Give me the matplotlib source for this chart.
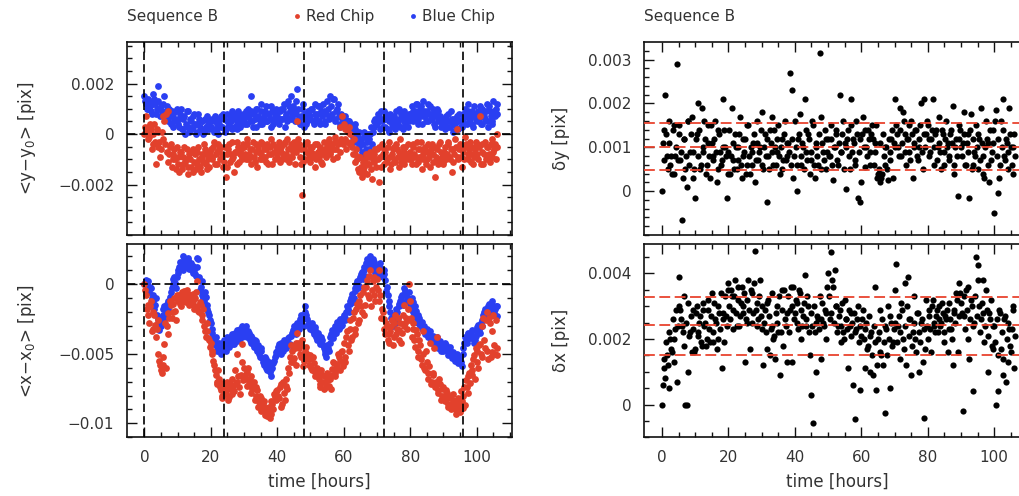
import numpy as np
import matplotlib
matplotlib.use('Agg')
import matplotlib.pyplot as plt
from matplotlib.lines import Line2D

plt.rcParams['font.family'] = ['DejaVu Sans']
plt.rcParams['mathtext.fontset'] = 'dejavusans'

RED = '#e2412c'
BLUE = '#2a3ff2'
TXT = '#333333'

# frame times of sequence B (hours): frames every half hour, plus the
# interleaved frames a quarter hour later
time_h = np.arange(0, 106.5, 0.5)
time_h2 = time_h + 0.25
day_marks = [0, 24, 48, 72, 96]

# <y-y0>, units of 1e-3 pix
blue_y = [1.5, 1.2, 1.0, 1.3, 0.9, 1.2, 1.4, 0.8, 1.9, 1.0, 1.1, 0.7, 1.5, 0.9, 0.6, 1.0, 0.4, 0.8, 0.5, 0.9,
          0.6, 0.3, 1.0, 0.2, 0.7, 0.4, 0.9, 0.1, 0.5, 0.3, 0.8, 0.0, 0.4, 0.6, 0.2, 0.5, 0.1, 0.3, 0.7, 0.2,
          0.3, 0.6, 0.1, 0.5, 0.2, 0.4, 0.7, 0.3, 0.6, 0.2, 0.8, 0.4, 0.5, 0.9, 0.3, 0.6, 0.2, 0.7, 0.5, 0.4,
          0.6, 0.9, 0.4, 0.7, 1.5, 0.5, 0.8, 0.3, 1.0, 0.6, 0.9, 0.4, 0.7, 1.1, 0.5, 0.8, 0.3, 0.9, 0.6, 1.0,
          0.7, 0.4, 1.0, 0.6, 1.2, 0.8, 0.5, 1.1, 1.5, 0.7, 0.9, 1.3, 1.8, 0.6, 0.4, 1.0, 0.3, 0.8, 0.5, 0.9,
          0.6, 1.0, 0.4, 1.2, 0.8, 0.5, 1.1, 0.7, 0.9, 0.4, 1.3, 0.6, 1.5, 0.8, 1.4, 0.5, 1.0, 0.7, 0.3, 0.6,
          0.4, 0.7, 0.2, 0.5, 0.1, 0.3, 0.0, 0.4, -0.2, 0.1, -0.4, -0.7, -0.1, -0.9, -0.3, -0.6, 0.0, -0.4, 0.3, 0.6,
          0.4, 0.7, 0.2, 0.5, 0.9, 0.3, 0.6, 0.1, 0.8, 0.4, 0.7, 0.2, 0.5, 1.0, 0.3, 0.6, 0.9, 0.4, 0.7, 0.5,
          0.8, 1.1, 0.5, 0.9, 1.2, 0.6, 1.0, 0.4, 1.3, 0.7, 0.9, 0.5, 1.1, 0.6, 0.8, 0.3, 1.0, 0.5, 0.7, 0.4,
          0.6, 0.2, 0.5, 0.8, 0.3, 0.6, 0.1, 0.4, 0.7, 0.2, 0.5, 0.3, 0.8, 1.0, 0.4, 1.2, 0.6, 0.9, 0.3, 0.7,
          0.5, 0.9, 1.1, 0.4, 0.8, 0.6, 1.2, 0.3, 0.9, 0.5, 1.3, 0.7, 1.2]
blue_y2 = [1.3, 1.0, 1.4, 1.1, 0.8, 1.6, 1.2, 1.0, 1.3, 0.7, 0.9, 1.2, 0.8, 1.1, 0.5, 0.7, 0.9, 0.3, 0.6, 1.0,
           0.4, 0.8, 0.2, 0.6, 0.0, 0.9, 0.3, 0.6, 0.2, 0.7, 0.4, 0.1, 0.8, 0.3, 0.5, 0.0, 0.6, 0.2, 0.4, 0.5,
           0.5, 0.2, 0.7, 0.4, 0.0, 0.6, 0.3, 0.8, 0.1, 0.5, 0.3, 0.7, 0.2, 0.6, 0.8, 0.4, 0.9, 0.3, 0.6, 0.8,
           0.4, 0.7, 1.0, 0.5, 0.9, 0.3, 0.6, 1.0, 0.7, 0.4, 1.2, 0.6, 0.9, 0.5, 0.8, 0.6, 1.1, 0.4, 0.7, 0.8,
           0.5, 0.9, 0.6, 1.0, 0.3, 0.7, 1.3, 0.9, 0.6, 1.1, 0.5, 0.8, 1.0, 0.4, 0.7, 1.2, 0.6, 0.4, 0.9, 0.7,
           1.0, 0.5, 0.8, 0.6, 1.1, 0.4, 0.9, 1.2, 0.5, 0.8, 1.0, 0.7, 1.1, 1.4, 0.6, 0.9, 1.2, 0.4, 0.8, 0.5,
           0.6, 0.3, 0.5, 0.1, 0.4, -0.1, 0.2, -0.3, 0.0, -0.5, -0.2, -0.4, 0.1, -0.6, 0.0, -0.2, 0.3, 0.1, 0.5, 0.4,
           0.8, 0.5, 0.9, 0.3, 0.6, 0.8, 0.2, 0.5, 0.7, 0.3, 0.5, 0.9, 0.4, 0.6, 0.8, 0.2, 0.5, 0.7, 0.3, 0.8,
           0.6, 0.9, 0.7, 1.2, 0.4, 0.8, 1.1, 0.7, 0.9, 0.5, 1.2, 0.8, 0.6, 1.0, 0.4, 0.7, 0.9, 0.6, 0.3, 0.6,
           0.4, 0.7, 0.3, 0.5, 0.9, 0.4, 0.6, 0.2, 0.5, 0.8, 0.3, 0.6, 0.4, 0.7, 0.9, 0.5, 0.8, 0.4, 1.1, 0.6,
           0.8, 0.6, 0.4, 1.0, 0.7, 0.9, 0.5, 1.1, 0.7, 0.4, 0.9, 1.0, 0.8]
red_y = [0.0, 0.7, 0.3, -0.1, 0.2, -0.4, 0.4, -1.2, 0.1, -0.3, -0.6, -0.2, 0.5, 0.8, 0.9, -0.8, -0.4, -1.0, -0.6, -1.4,
         -0.9, -1.5, -0.7, -1.2, -0.5, -1.0, -1.6, -0.8, -1.3, -0.6, -1.1, -1.4, -0.7, -1.0, -1.5, -0.9, -0.4, -1.2, -0.8, -1.3,
         -0.6, -1.0, -0.3, -0.8, -1.2, -0.6, -0.5, -0.9, -1.1, -1.7, -1.3, -0.4, -0.8, -1.0, -1.5, -0.7, -0.3, -1.1, -0.6, -0.9,
         -0.5, -1.0, -0.2, -0.8, -1.2, -0.6, -0.9, -0.4, -1.3, -0.7, -0.3, -1.0, -0.6, -1.1, -0.4, -0.8, -0.2, -1.2, -0.7, -0.5,
         -0.9, -0.3, -0.7, -1.0, -0.4, -0.8, -0.2, -1.1, -0.5, -0.9, -0.3, -0.7, 0.5, -0.4, -1.2, -2.4, -0.6, -1.0, -0.3, -0.8,
         -1.1, -0.5, -0.8, -1.3, -0.4, -0.9, -0.6, -1.2, -0.3, -0.7, -0.5, -0.2, -0.8, -0.4, -0.6, -0.1, -0.9, -0.3, 0.3, 0.7,
         0.4, 0.2, -0.3, 0.3, 0.0, -0.5, -0.2, -0.8, -1.0, -1.5, -0.9, -1.7, -1.3, -1.0, -1.6, -1.2, -0.7, -1.8, -1.1, -0.6,
         -0.6, -1.9, -0.9, -0.4, -1.2, -0.7, -1.0, -0.3, -1.4, -0.8, -0.5, -1.1, -0.6, -1.3, -0.2, -0.9, -1.2, -0.5, -0.8, -1.0,
         -0.7, -1.2, -0.4, -0.9, -0.3, -1.1, -0.6, -1.4, -0.8, -0.5, -1.0, -0.7, -1.3, -0.4, -0.8, -1.7, -0.6, -1.0, -0.3, -0.9,
         -1.2, -0.5, -0.8, -0.3, -1.0, -1.5, -0.6, -0.2, 0.2, -0.9, -0.4, -1.3, -0.7, -0.1, -0.5, -1.0, -0.3, -0.8, -1.2, -0.6,
         -0.4, -1.0, 0.7, -0.7, -1.2, -0.3, -0.9, -0.5, -1.1, -0.2, -0.7, -0.4, 0.0]
red_y2 = [0.3, 0.1, -0.2, 0.4, -0.6, 0.0, -0.3, 0.2, -0.5, -0.9, 0.1, 0.7, -0.4, -0.7, -1.1, -0.5, -1.3, -0.8, -1.0, -0.5,
          -1.2, -0.7, -1.4, -0.9, -1.1, -0.6, -1.3, -1.0, -0.7, -1.5, -0.8, -1.2, -0.5, -1.3, -0.8, -1.1, -0.6, -1.4, -1.0, -0.7,
          -0.9, -0.5, -1.2, -0.7, -0.4, -1.0, -0.8, -1.3, -0.5, -0.8, -0.6, -1.1, -0.3, -0.9, -0.7, -1.2, -0.5, -0.8, -1.0, -0.4,
          -0.8, -0.4, -1.0, -0.6, -0.9, -0.3, -1.1, -0.7, -0.5, -1.0, -0.8, -0.4, -0.9, -0.6, -1.2, -0.5, -0.8, -0.4, -1.0, -0.7,
          -0.6, -1.1, -0.5, -0.8, -0.3, -1.0, -0.6, -0.9, -0.4, -0.7, -1.2, -0.5, -0.2, -0.9, -0.6, -1.1, -0.4, -0.7, -1.0, -0.5,
          -0.7, -0.9, -0.4, -1.0, -0.7, -0.5, -1.1, -0.8, -0.6, -0.9, -0.3, -0.7, -0.5, -1.0, -0.3, -0.6, -0.4, -0.7, -0.2, -0.4,
          -0.2, -0.6, 0.1, -0.4, -0.3, -0.8, -1.1, -0.6, -1.4, -0.9, -1.3, -1.1, -1.5, -0.8, -1.2, -0.9, -1.4, -1.0, -0.8, -1.3,
          -1.0, -0.5, -1.3, -0.8, -0.6, -1.1, -0.5, -0.9, -1.2, -0.6, -1.0, -0.4, -0.9, -0.7, -1.1, -0.5, -0.7, -1.0, -0.4, -0.8,
          -1.0, -0.5, -0.8, -1.2, -0.6, -0.9, -0.3, -1.0, -0.6, -1.2, -0.4, -0.9, -0.6, -1.1, -0.5, -0.9, -1.2, -0.4, -0.7, -1.1,
          -0.7, -1.0, -0.4, -0.9, -0.6, -1.1, -0.8, -0.5, -1.0, -0.6, -0.9, -0.5, -1.0, -0.4, -0.8, -0.6, -1.1, -0.5, -0.9, -0.3,
          -0.8, -0.5, -1.2, -0.4, -0.8, -1.0, -0.5, -0.8, -0.4, -0.9, -0.6, -1.0, -0.5]

# <x-x0>, units of 1e-3 pix
blue_x = [0.0, 0.3, 0.2, -0.6, -0.3, -1.2, -1.8, -1.0, -2.5, -3.3, -3.0, -2.2, -1.6, -2.0, -1.2, -1.5, -0.6, 0.0, 0.5, -0.3,
          0.8, 1.2, 1.5, 1.0, 1.9, 1.4, 1.7, 1.1, 1.5, 0.8, 1.0, 0.6, 1.9, 0.5, -0.2, -0.8, -1.2, -0.9, -1.8, -2.2,
          -2.8, -3.5, -4.3, -3.8, -4.8, -4.2, -5.0, -4.5, -4.0, -4.8, -3.8, -4.5, -4.0, -3.6, -4.3, -3.7, -3.3, -4.0, -3.5, -3.0,
          -3.4, -3.0, -3.8, -3.5, -4.2, -3.9, -4.5, -4.1, -4.8, -5.0, -4.6, -5.3, -5.8, -5.4, -6.2, -5.6, -6.6, -6.0, -5.5, -5.1,
          -4.8, -4.3, -5.0, -4.5, -4.0, -4.6, -4.2, -3.8, -4.4, -3.5, -3.0, -3.6, -2.8, -3.2, -2.2, -2.6, -3.0, -1.6, -2.5, -2.8,
          -3.2, -2.8, -3.6, -3.3, -4.0, -3.7, -4.3, -4.0, -4.6, -5.0, -4.4, -4.8, -3.8, -3.3, -3.6, -3.0, -2.7, -3.2, -2.5, -2.9,
          -2.2, -2.6, -1.6, -2.0, -1.2, -0.7, -1.0, -0.3, 0.2, -0.1, 0.5, 0.9, 1.2, 0.6, 1.8, 1.4, 2.0, 1.1, 1.6, 0.8,
          1.2, 0.6, 1.5, 0.9, 1.0, 0.3, -0.2, -1.2, -2.0, -2.6, -2.2, -2.8, -2.0, -1.6, -1.2, -0.8, -1.3, -0.5, -1.0, -0.6,
          -1.4, -1.0, -2.0, -1.6, -2.5, -2.2, -3.0, -2.7, -3.3, -3.6, -3.2, -3.8, -3.4, -4.2, -3.9, -4.4, -3.8, -4.6, -4.1, -4.5,
          -4.8, -4.2, -4.6, -5.1, -4.5, -5.3, -4.9, -5.5, -5.0, -5.7, -5.2, -5.9, -4.6, -3.8, -4.2, -3.5, -3.9, -3.3, -3.7, -4.0,
          -3.4, -2.9, -3.5, -2.6, -2.2, -1.8, -2.4, -1.6, -2.0, -1.2, -2.2, -1.8, -1.6]
blue_x2 = [0.1, 0.0, -0.4, -0.2, -1.0, -0.8, -1.5, -2.2, -2.8, -2.6, -2.4, -1.8, -2.4, -1.4, -1.8, -0.9, -0.3, 0.4, 0.1, 0.5,
           1.0, 1.6, 1.3, 2.0, 1.6, 1.2, 1.9, 1.4, 1.0, 1.3, 0.7, 1.2, 1.8, -0.4, 0.2, -1.0, -0.6, -1.5, -2.0, -2.6,
           -3.2, -3.9, -4.1, -4.5, -4.4, -4.7, -4.6, -4.2, -4.4, -4.1, -4.2, -3.8, -4.3, -3.9, -3.5, -4.1, -3.6, -3.2, -3.8, -3.3,
           -3.2, -3.6, -3.4, -4.0, -3.7, -4.3, -4.0, -4.6, -4.4, -5.2, -4.8, -5.6, -5.2, -6.0, -5.8, -6.3, -6.1, -5.7, -5.2, -4.9,
           -4.5, -4.7, -4.2, -4.8, -4.3, -4.1, -3.9, -4.3, -3.7, -3.3, -3.4, -2.9, -3.1, -2.5, -2.9, -2.3, -2.0, -2.2, -2.9, -3.1,
           -3.0, -3.4, -3.1, -3.8, -3.5, -4.1, -3.8, -4.4, -4.8, -5.2, -4.6, -4.2, -3.6, -3.9, -3.2, -3.5, -2.9, -2.6, -3.0, -2.4,
           -2.4, -2.0, -1.8, -1.4, -1.0, -1.3, -0.5, 0.0, -0.3, 0.3, 0.7, 0.4, 1.0, 1.5, 1.2, 1.7, 1.5, 1.8, 1.3, 1.0,
           0.9, 1.3, 1.1, 0.5, 0.7, -0.5, -0.8, -1.6, -2.4, -3.0, -2.5, -1.8, -2.4, -1.4, -0.9, -1.5, -0.3, -0.8, -1.2, -1.1,
           -1.8, -1.3, -2.3, -1.9, -2.8, -2.4, -2.9, -3.2, -3.0, -3.4, -3.5, -3.6, -4.0, -3.7, -4.1, -4.0, -4.3, -4.2, -4.8, -4.4,
           -4.6, -4.4, -4.9, -4.7, -5.0, -5.1, -5.3, -5.2, -5.4, -5.5, -5.6, -5.0, -4.2, -4.0, -3.6, -3.8, -3.5, -3.9, -4.2, -3.7,
           -3.1, -3.3, -2.8, -3.0, -2.0, -2.3, -1.9, -1.4, -1.8, -1.5, -2.0, -1.6, -2.3]
red_x = [0.0, -0.8, -1.5, -2.8, -1.2, -3.2, -2.2, -3.8, -2.6, -5.5, -6.2, -5.8, -4.3, -6.0, -3.6, -2.4, -1.5, -2.0, -1.0, -2.6,
         -1.2, -0.8, -1.6, -1.0, -0.5, -1.3, -0.7, -1.5, -0.9, -1.2, -1.8, -0.6, 0.2, -2.0, -1.5, -2.6, -3.0, -3.8, -3.4, -4.0,
         -4.2, -5.0, -5.8, -6.5, -7.2, -6.8, -7.6, -8.0, -7.3, -7.8, -7.0, -8.1, -7.5, -6.8, -7.7, -7.1, -5.0, -7.4, -6.5, -4.3,
         -6.0, -6.8, -6.3, -7.2, -6.6, -7.5, -7.0, -8.0, -7.6, -8.5, -8.2, -8.9, -8.4, -9.2, -9.5, -8.8, -9.3, -8.6, -7.9, -8.3,
         -7.6, -8.2, -7.2, -8.6, -7.8, -6.8, -7.5, -6.4, -5.6, -4.8, -5.3, -4.2, -3.5, -4.6, -5.2, -4.0, -5.5, -4.8, -5.0, -5.8,
         -5.4, -6.2, -5.7, -6.6, -6.0, -6.8, -7.2, -6.5, -7.5, -7.0, -6.4, -7.3, -6.8, -6.1, -5.7, -6.4, -5.8, -5.2, -5.5, -4.8,
         -4.2, -5.6, -3.4, -4.8, -2.6, -3.8, -2.0, -3.2, -1.4, -2.6, -0.8, -2.0, -0.2, -1.5, 0.3, -1.0, 1.0, -0.4, 0.5, -1.2,
         0.4, 1.0, -0.8, -1.8, -2.5, -3.6, -3.0, -4.2, -3.4, -2.6, -3.8, -2.2, -3.2, -4.0, -2.8, -3.5, -1.5, -2.8, -3.2, 0.0,
         -1.2, -3.8, -2.8, -4.5, -3.6, -5.2, -4.4, -5.8, -3.4, -6.2, -5.6, -6.8, -4.2, -7.0, -6.5, -7.4, -3.8, -7.6, -7.2, -8.0,
         -7.5, -8.4, -7.8, -8.8, -8.2, -8.6, -7.9, -9.0, -8.5, -8.9, -9.2, -8.4, -8.0, -8.7, -7.4, -6.6, -7.1, -6.2, -5.4, -6.8,
         -4.8, -6.0, -4.3, -5.2, -2.4, -4.6, -2.0, -5.4, -2.8, -4.9, -2.2, -5.0, -4.6]
red_x2 = [-0.4, -1.8, -2.2, -1.6, -3.4, -2.0, -2.9, -3.2, -5.0, -5.8, -6.4, -5.2, -2.8, -3.0, -2.1, -1.2, -2.4, -1.4, -1.9, -0.8,
          -1.0, -1.4, -0.6, -1.2, -0.9, -0.4, -1.1, -0.8, -1.4, -0.7, -1.0, -1.6, -1.9, -1.3, -2.2, -1.8, -3.4, -2.8, -3.9, -4.5,
          -4.8, -5.5, -6.2, -7.0, -6.2, -7.4, -8.2, -7.1, -7.9, -7.5, -8.3, -7.2, -7.9, -7.3, -6.2, -7.0, -6.6, -7.9, -5.6, -6.9,
          -6.5, -7.3, -6.0, -6.9, -7.8, -7.2, -8.3, -7.4, -8.8, -8.0, -9.1, -8.6, -9.4, -8.9, -9.0, -9.6, -8.4, -9.0, -8.1, -7.7,
          -8.0, -7.4, -8.8, -7.0, -8.3, -7.3, -6.0, -5.2, -4.4, -5.6, -4.6, -5.8, -4.2, -5.0, -4.4, -5.9, -5.2, -4.5, -5.4, -5.1,
          -6.0, -5.2, -6.3, -6.1, -6.5, -7.4, -6.2, -7.0, -6.6, -7.4, -6.9, -6.5, -7.5, -5.6, -6.6, -6.0, -5.0, -6.2, -4.9, -5.9,
          -5.2, -3.8, -4.4, -3.2, -4.0, -2.4, -3.6, -1.8, -2.8, -1.2, -1.6, -0.6, -2.2, -0.2, -0.8, 0.6, -1.6, 0.2, -0.8, -0.2,
          -0.4, -1.2, -2.4, -2.0, -3.2, -2.8, -4.0, -3.6, -3.0, -4.4, -2.8, -3.6, -2.4, -3.3, -4.2, -2.2, -3.0, -2.4, -1.8, -2.6,
          -2.4, -3.2, -4.0, -3.3, -4.8, -4.0, -5.4, -5.0, -6.0, -4.8, -6.4, -5.9, -7.2, -6.4, -4.6, -7.0, -7.8, -6.8, -8.3, -7.4,
          -8.0, -7.6, -8.6, -8.1, -9.0, -8.3, -8.8, -9.3, -8.2, -8.7, -7.7, -8.9, -7.4, -6.9, -7.8, -6.4, -5.8, -6.5, -5.1, -4.6,
          -5.6, -4.4, -5.0, -3.0, -4.0, -2.6, -4.8, -2.4, -5.2, -3.4, -4.4, -2.6, -5.1]

# delta y and delta x between the chips, units of 1e-3 pix
delta_y = [0.0, 1.4, 2.2, 0.8, 1.1, 0.6, 0.4, 1.5, 0.8, 2.9, 1.3, 0.7, -0.65, 1.2, 0.5, 0.1, 1.6, 0.9, 1.7, 0.3,
           -0.15, 1.3, 2.0, 0.5, 1.9, 0.9, 1.2, 0.6, 1.5, 0.3, 1.1, 0.8, 1.6, 0.2, 1.4, 0.9, 0.7, 2.1, 1.0, -0.15,
           0.9, 0.4, 1.9, 0.7, 1.3, 0.5, 1.0, 1.7, 0.3, 0.8, 1.2, 0.6, 1.5, 0.4, 0.9, 1.1, 0.2, 1.6, 0.7, 1.0,
           1.8, 0.5, 1.3, -0.25, 0.8, 1.4, 1.7, 0.6, 1.0, 0.9, 1.5, 0.4, 1.2, 0.7, 1.6, 0.8, 1.1, 2.7, 2.3, 0.3,
           1.6, 0.0, 1.2, 1.75, 0.6, 1.0, 2.1, 0.9, 1.3, 0.4, 0.7, 1.5, 0.3, 1.1, 0.6, 3.15, 1.7, 0.9, 1.4, 0.5,
           1.2, 0.8, 1.5, 0.25, 1.0, 1.3, 0.6, 2.2, 0.9, 1.6, 1.1, 0.05, 1.4, 0.5, 2.1, 1.2, 0.6, 1.6, -0.15, -0.25,
           0.2, 1.7, 0.55, 1.0, 1.4, 0.6, 1.3, 1.2, 0.9, 1.5, 0.4, 1.1, 0.3, 1.3, 0.6, 1.0, 0.25, 0.7, 1.2, 0.3,
           2.1, 1.5, 1.0, 1.9, 0.8, 1.8, 1.3, 0.6, 1.2, 0.9, 1.6, 0.3, 1.1, 1.4, 0.7, 1.0, 2.0, 0.5, 2.1, 1.3,
           1.5, 0.8, 1.2, 2.1, 0.6, 1.4, 1.0, 1.7, 0.5, 1.3, 0.9, 1.6, 1.1, 0.7, 1.4, 1.95, 0.4, 1.2, -0.1, 1.5,
           1.0, 1.1, 1.8, 0.6, 1.3, -0.15, 1.75, 0.6, 0.9, 1.5, 0.5, 1.2, 1.9, 0.8, 0.3, 1.6, 1.1, 0.2, 0.7, 1.4,
           -0.5, 1.85, -0.05, 0.3, 1.6, 2.1, 0.8, 1.2, 0.5, 1.9, 1.0, 0.4, 1.3]
delta_y2 = [1.1, 0.7, 1.3, 0.5, 1.6, 0.8, 1.4, 0.4, 1.0, 0.7, 1.5, 0.9, 0.3, 1.2, 0.8, 1.6, 0.6, 1.3, 0.9, 0.5,
            1.2, 0.8, 1.4, 0.6, 1.0, 1.6, 0.4, 1.1, 0.8, 1.5, 0.7, 1.2, 0.9, 0.5, 1.3, 0.6, 1.0, 1.4, 0.8, 0.4,
            1.4, 0.8, 1.1, 0.5, 1.0, 0.7, 1.3, 0.6, 1.2, 0.9, 0.4, 1.5, 0.8, 1.0, 0.6, 1.3, 0.7, 1.1, 0.9, 1.4,
            0.6, 1.0, 0.8, 1.2, 0.5, 1.1, 0.9, 1.4, 0.6, 1.2, 0.8, 1.0, 0.5, 1.3, 0.7, 1.1, 0.9, 0.6, 1.2, 0.8,
            1.0, 0.6, 1.3, 0.8, 1.1, 0.5, 1.4, 0.7, 1.2, 0.9, 1.6, 0.6, 1.0, 0.8, 1.3, 0.5, 1.1, 0.7, 1.2, 0.9,
            0.8, 1.2, 0.6, 1.0, 1.4, 0.7, 1.1, 0.9, 1.3, 0.5, 1.0, 1.2, 0.8, 1.5, 0.9, 1.1, 0.7, 1.3, 0.9, 1.2,
            1.3, 1.0, 1.4, 0.8, 1.2, 0.9, 1.5, 0.6, 1.1, 0.3, 0.5, 0.2, 0.4, 0.8, 1.0, 0.5, 1.2, 0.9, 1.4, 1.1,
            1.0, 1.3, 0.8, 1.4, 1.1, 1.6, 0.9, 1.2, 1.5, 0.7, 1.3, 1.0, 1.4, 0.8, 1.2, 1.5, 0.9, 1.3, 1.0, 1.6,
            1.2, 0.9, 1.4, 1.0, 1.3, 0.7, 1.1, 0.9, 1.4, 0.6, 1.2, 1.0, 0.8, 1.3, 1.1, 0.6, 1.0, 0.8, 1.2, 1.4,
            0.8, 1.3, 0.6, 1.1, 0.9, 1.4, 0.5, 1.2, 0.8, 1.0, 1.3, 0.7, 1.1, 0.4, 1.0, 1.2, 0.6, 1.4, 0.9, 1.1,
            1.6, 0.8, 1.2, 0.6, 1.0, 1.4, 0.7, 1.1, 0.9, 1.3, 0.6, 1.0, 0.8]
delta_x = [0.0, 1.1, 0.8, 1.5, 0.5, 2.0, 1.6, 1.3, 2.3, 0.7, 3.9, 2.9, 2.4, 3.3, 0.0, 0.0, 1.0, 2.2, 1.6, 2.9,
           1.7, 3.0, 2.1, 2.7, 1.8, 3.1, 2.5, 2.0, 2.9, 1.9, 3.4, 2.2, 2.6, 1.7, 3.0, 2.3, 1.1, 2.8, 3.3, 2.4,
           3.7, 2.6, 3.3, 2.9, 3.8, 2.4, 3.2, 2.7, 3.6, 3.0, 1.3, 2.5, 3.8, 1.7, 3.4, 2.8, 4.7, 3.1, 2.6, 3.8,
           2.3, 1.2, 2.9, 1.7, 3.2, 1.5, 2.4, 2.0, 1.4, 3.0, 2.2, 0.9, 3.5, 1.8, 2.6, 1.3, 3.3, 2.9, 1.3, 3.6,
           2.8, 3.1, 2.3, 3.4, 2.0, 2.7, 3.95, 2.4, 3.0, 1.5, 0.3, -0.55, 2.2, 1.0, 2.6, 3.3, 1.4, 2.5, 2.9, 2.0,
           4.0, 2.6, 4.65, 3.6, 4.1, 3.0, 2.4, 2.9, 1.9, 2.2, 3.2, 2.6, 1.1, 2.4, 2.8, 0.6, -0.45, 2.3, 3.0, 0.45,
           2.1, 2.9, 1.1, 2.5, 1.8, 1.0, 2.2, 0.9, 3.6, 0.45, 2.0, 2.9, 1.5, 1.2, -0.25, 2.3, 3.0, 0.5, 2.5, 1.9,
           3.5, 4.3, 2.4, 1.4, 3.1, 2.0, 3.7, 1.2, 3.9, 2.6, 0.9, 2.2, 3.3, 1.6, 2.8, 1.0, 2.5, 1.3, -0.4, 3.2,
           2.0, 2.9, 1.6, 3.2, 2.4, 2.7, 2.2, 3.0, 2.5, 2.8, 1.9, 2.6, 1.6, 3.1, 2.3, 1.2, 2.9, 3.4, 1.6, 3.7,
           3.1, -0.2, 2.7, 3.5, 2.0, 1.4, 3.2, 0.4, 2.5, 4.5, 4.25, 3.0, 2.6, 3.8, 1.9, 3.5, 1.0, 2.8, 3.2, 1.7,
           2.4, 0.0, 0.4, 2.9, 1.7, 0.9, 2.6, 0.7, 1.3, 2.3, 1.6, 3.0, 1.1]
delta_x2 = [0.6, 1.4, 1.9, 1.2, 2.2, 1.7, 2.6, 2.0, 2.9, 2.4, 3.0, 2.6, 2.2, 1.8, 2.5, 3.1, 2.1, 2.7, 2.3, 1.6,
            2.8, 2.2, 2.5, 1.9, 2.9, 2.4, 1.8, 3.2, 2.3, 2.7, 1.9, 3.1, 2.5, 2.0, 2.8, 3.4, 2.6, 1.9, 2.7, 3.5,
            3.0, 3.5, 2.3, 3.3, 2.8, 3.6, 2.4, 3.1, 2.8, 3.4, 2.6, 3.2, 2.9, 3.5, 2.5, 3.7, 2.9, 2.4, 3.3, 2.7,
            3.0, 2.5, 2.2, 3.1, 2.7, 2.3, 3.4, 2.1, 2.8, 2.5, 3.3, 2.2, 2.9, 3.5, 2.4, 2.8, 2.2, 3.6, 3.0, 2.6,
            3.2, 2.5, 3.5, 2.9, 2.4, 3.1, 2.6, 3.3, 2.2, 2.8, 2.4, 3.0, 2.5, 2.7, 2.3, 2.6, 3.1, 2.4, 2.8, 3.6,
            3.3, 2.8, 3.8, 2.5, 3.0, 2.2, 2.7, 2.4, 3.1, 2.0, 2.6, 2.3, 2.9, 2.1, 2.5, 2.8, 2.2, 2.6, 1.9, 2.4,
            2.6, 2.0, 2.3, 1.7, 2.7, 2.1, 1.5, 2.4, 1.9, 1.2, 2.2, 1.6, 2.6, 1.9, 2.4, 1.5, 2.0, 2.7, 1.8, 2.3,
            2.5, 1.9, 2.7, 2.2, 2.9, 1.7, 2.4, 3.0, 2.1, 2.6, 1.8, 2.5, 2.0, 2.8, 2.2, 1.9, 2.6, 2.3, 1.7, 2.4,
            2.7, 2.3, 3.0, 2.5, 2.2, 2.9, 2.6, 2.4, 3.1, 2.2, 2.7, 2.9, 2.3, 2.6, 2.0, 2.8, 2.5, 3.2, 2.7, 3.4,
            2.8, 3.3, 2.3, 2.9, 3.6, 2.6, 3.0, 2.4, 3.3, 2.7, 3.8, 2.2, 3.1, 2.8, 2.4, 2.9, 2.1, 2.6, 1.8, 2.4,
            1.9, 2.6, 1.5, 2.8, 2.2, 1.4, 2.7, 2.0, 2.5, 1.8, 2.3, 2.9, 2.1]

# reference levels (mean and +/- rms) for the delta panels
dy_levels = [0.00048, 0.0010, 0.00155]
dx_levels = [0.00151, 0.00242, 0.00328]

for s in (blue_y, red_y, blue_x, red_x, delta_y, delta_x,
          blue_y2, red_y2, blue_x2, red_x2, delta_y2, delta_x2):
    assert len(s) == len(time_h), len(s)

t_all = np.concatenate([time_h, time_h2])


def both(a, b):
    return np.concatenate([a, b]) * 1e-3


def style(ax, ylim, majors, labels, minor, show_x=True):
    ax.set_xlim(-5.3, 110.7)
    ax.set_ylim(*ylim)
    ax.set_xticks([0, 20, 40, 60, 80, 100])
    ax.set_xticks(np.arange(0, 111, 5), minor=True)
    ax.set_yticks(majors)
    ax.set_yticklabels(labels)
    ax.set_yticks(np.arange(ylim[0] - ylim[0] % minor, ylim[1], minor), minor=True)
    ax.tick_params(which='both', direction='in', top=True, right=True, width=1.0,
                   colors='#111111', labelcolor=TXT, labelsize=11)
    ax.tick_params(which='major', length=7, pad=9)
    ax.tick_params(which='minor', length=3.5)
    if not show_x:
        ax.tick_params(labelbottom=False)
    else:
        ax.set_xlabel('time [hours]', fontsize=12, color=TXT)
        ax.xaxis.set_label_coords(0.5, -0.185)
    for sp in ax.spines.values():
        sp.set_linewidth(1.2)
        sp.set_color('#111111')


W, H = 1019, 496
fig = plt.figure(figsize=(W / 100, H / 100), dpi=100)

axw = 385.5 / W
axh = 193 / H
ax_y = fig.add_axes([126.7 / W, 1 - 235 / H, axw, axh])
ax_x = fig.add_axes([126.7 / W, 1 - 437.3 / H, axw, axh])
ax_dy = fig.add_axes([644.3 / W, 1 - 235 / H, axw, axh])
ax_dx = fig.add_axes([644.3 / W, 1 - 437.3 / H, axw, axh])

dash = (0, (5, 2.5))
ms = 24

# left column: chip offsets
for ax, b, b2, r, r2 in ((ax_y, blue_y, blue_y2, red_y, red_y2),
                         (ax_x, blue_x, blue_x2, red_x, red_x2)):
    ax.scatter(t_all, both(b, b2), s=ms, color=BLUE, linewidths=0, zorder=2)
    ax.scatter(t_all, both(r, r2), s=ms, color=RED, linewidths=0, zorder=3)
    for d in day_marks:
        ax.axvline(d, color='black', lw=1.2, ls=dash, zorder=4)
    ax.axhline(0, color='black', lw=1.2, ls=dash, zorder=4)

style(ax_y, (-0.00366, 0.00365), [-0.002, 0, 0.002], ['\u22120.002', '0', '0.002'], 0.0005, show_x=False)
style(ax_x, (-0.01095, 0.00286), [-0.01, -0.005, 0], ['\u22120.01', '\u22120.005', '0'], 0.001)
ax_y.set_ylabel('<y\u2212y$_0$> [pix]', fontsize=12, color=TXT)
ax_x.set_ylabel('<x\u2212x$_0$> [pix]', fontsize=12, color=TXT)
ax_y.yaxis.set_label_coords(-0.23, 0.5)
ax_x.yaxis.set_label_coords(-0.23, 0.5)

# right column: chip separation
for ax, v, v2, levels in ((ax_dy, delta_y, delta_y2, dy_levels),
                          (ax_dx, delta_x, delta_x2, dx_levels)):
    ax.scatter(t_all, both(v, v2), s=20, color='black', linewidths=0, zorder=2)
    for lv in levels:
        ax.axhline(lv, color='#e8432e', lw=1.3, ls=(0, (6, 2.5)), zorder=3)

style(ax_dy, (-0.00083, 0.0034), [0, 0.001, 0.002, 0.003], ['0', '0.001', '0.002', '0.003'], 0.0002, show_x=False)
style(ax_dx, (-0.00083, 0.00489), [0, 0.002, 0.004], ['0', '0.002', '0.004'], 0.0005)
ax_dy.set_ylabel('\u03b4y [pix]', fontsize=12, color=TXT)
ax_dx.set_ylabel('\u03b4x [pix]', fontsize=12, color=TXT)
ax_dy.yaxis.set_label_coords(-0.193, 0.5)
ax_dx.yaxis.set_label_coords(-0.193, 0.5)

# headers
fig.text(126.7 / W, 1 - 17 / H, 'Sequence B', fontsize=11, color=TXT, va='center', ha='left')
fig.text(644.3 / W, 1 - 17 / H, 'Sequence B', fontsize=11, color=TXT, va='center', ha='left')
handles = [Line2D([], [], marker='o', ls='', ms=3.5, color=RED, mec='none'),
           Line2D([], [], marker='o', ls='', ms=3.5, color=BLUE, mec='none')]
fig.legend(handles, ['Red Chip', 'Blue Chip'], loc='center left',
           bbox_to_anchor=(293 / W, 1 - 17 / H), ncol=2, frameon=False,
           handlelength=0.5, handletextpad=0.35, columnspacing=2.3,
           fontsize=11, labelcolor=TXT, borderaxespad=0, borderpad=0)

fig.savefig('out.png', dpi=100)
